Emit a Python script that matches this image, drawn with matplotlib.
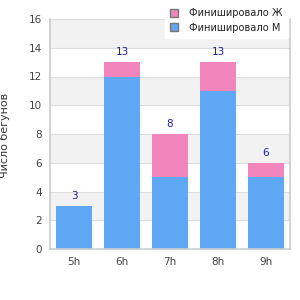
import matplotlib.pyplot as plt
import matplotlib.patches as mpatches
import numpy as np

hours = ['5h', '6h', '7h', '8h', '9h']
finished_m = [3, 12, 5, 11, 5]
finished_f = [0, 1, 3, 2, 1]
totals = [m + f for m, f in zip(finished_m, finished_f)]

blue = '#5fa8f5'
pink = '#f285bb'

fig = plt.figure(figsize=(3, 3), dpi=100)
ax = fig.add_axes([50 / 300, 51 / 300, 240 / 300, 230 / 300])

x = np.arange(len(hours))

# alternating bands
for lo in range(2, 16, 4):
    ax.axhspan(lo, lo + 2, color='#f2f2f2', zorder=0, lw=0)
ax.set_ylim(0, 16)
ax.set_xlim(-0.5, len(hours) - 0.5)
ax.yaxis.grid(True, color='#dddddd', lw=0.8, zorder=1)
ax.set_axisbelow(True)

ax.bar(x, finished_m, width=0.73, color=blue, zorder=2)
ax.bar(x, finished_f, width=0.73, bottom=finished_m, color=pink, zorder=2)

for xi, t in zip(x, totals):
    ax.text(xi, t + 0.35, str(t), ha='center', va='bottom', fontsize=7.5, color='#1f1f99')

ax.set_xticks(x)
ax.set_xticklabels(hours)
ax.set_yticks(range(0, 17, 2))
ax.tick_params(length=0, labelsize=7.5, colors='#444444', pad=6)
ax.spines['top'].set_visible(False)
for s in ['left', 'right', 'bottom']:
    ax.spines[s].set_color('#cccccc')
    ax.spines[s].set_linewidth(1.2)

fig.text(0.0, 0.55, 'Число бегунов', rotation=90, ha='left', va='center', fontsize=8, color='#333333')

handles = [mpatches.Patch(facecolor=pink, edgecolor='#777777', label='Финишировало Ж'),
           mpatches.Patch(facecolor=blue, edgecolor='#777777', label='Финишировало М')]
leg = fig.legend(handles=handles, loc='upper right', bbox_to_anchor=(0.975, 1.005), fontsize=7.1,
                 frameon=True, fancybox=False, handlelength=0.85, handleheight=0.85,
                 handletextpad=1.1, labelspacing=0.45, borderpad=0.5)
leg.get_frame().set_facecolor('white')
leg.get_frame().set_edgecolor('white')
leg.get_frame().set_alpha(1)
for t in leg.get_texts():
    t.set_color('#222222')

fig.savefig('out.png', dpi=100, facecolor='white')
